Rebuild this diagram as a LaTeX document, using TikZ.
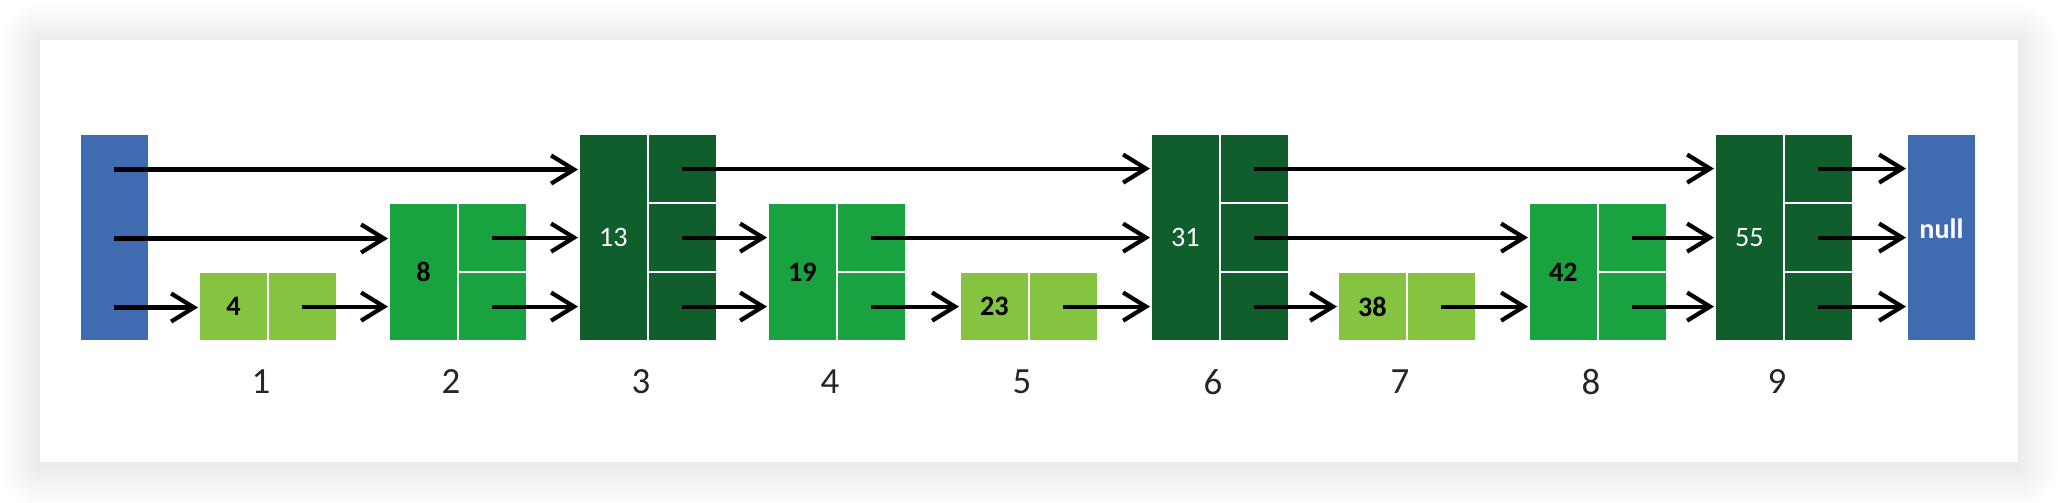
\documentclass[tikz,border=0pt]{standalone}
\usepackage{fontspec}
\setmainfont{Carlito}
\usetikzlibrary{arrows.meta}

\definecolor{headblue}{RGB}{63,108,177}
\definecolor{lightgreen}{RGB}{132,196,65}
\definecolor{midgreen}{RGB}{25,163,64}
\definecolor{darkgreen}{RGB}{15,94,43}

\tikzset{
    cell/.style={draw=white, line width=0.5pt, anchor=south west, inner sep=0pt,
        minimum width=0.69cm, minimum height=0.69cm},
    onlight/.style={text=black, font=\fontsize{8}{9}\selectfont\bfseries},
    ondark/.style={text=white, font=\fontsize{8}{9}\selectfont},
    ptr/.style={-{Straight Barb[length=6.5pt,width=8pt]}, line width=1.2pt},
    idx/.style={font=\fontsize{10.5}{12}\selectfont, text=black!85},
}

\begin{document}
\begin{tikzpicture}[x=0.01cm, y=-0.01cm, >=latex]
    \useasboundingbox (0,0) rectangle (2058,502);

    % card with soft shadow
    \foreach \r in {2,4,...,40}{
        \fill[black, opacity=0.0032, rounded corners=\r*0.28pt] (40-\r,44-\r) rectangle (2018+\r,466+\r);
    }
    \fill[white] (40,40) rectangle (2018,462);

    % head and tail
    \node[cell, fill=headblue, minimum height=2.07cm] (head) at (79,342) {};
    \node[cell, fill=headblue, minimum height=2.07cm,
        label={[text=white, font=\fontsize{8}{9}\selectfont\bfseries, yshift=2.5pt]center:null}] (nil) at (1906,342) {};
    \foreach \k in {1,2,3}
        \coordinate (h\k) at (114,342-\k*69+34.5);

    % towers
    \foreach \i/\x/\h/\num/\col/\sty in {1/198/1/4/lightgreen/onlight, 2/388/2/8/midgreen/onlight,
        3/578/3/13/darkgreen/ondark, 4/767/2/19/midgreen/onlight, 5/959/1/23/lightgreen/onlight,
        6/1150/3/31/darkgreen/ondark, 7/1337/1/38/lightgreen/onlight, 8/1528/2/42/midgreen/onlight,
        9/1714/3/55/darkgreen/ondark}{
        \node[cell, \sty, fill=\col, minimum height=\h*0.69cm] (v\i) at (\x,342) {\num};
        \foreach \k in {1,...,\h}
            \node[cell, fill=\col] (p\i-\k) at (\x+69,342-\k*69+69) {};
        \node[idx] (lbl\i) at (\x+63,382) {\i};
    }

    % pointers
    \foreach \k/\j in {3/v3, 2/v2, 1/v1}
        \draw[ptr] (h\k) -- (\j.west |- h\k);
    \foreach \i/\k/\j in {3/3/v6, 6/3/v9, 9/3/nil,
        2/2/v3, 3/2/v4, 4/2/v6, 6/2/v8, 8/2/v9, 9/2/nil,
        1/1/v2, 2/1/v3, 3/1/v4, 4/1/v5, 5/1/v6, 6/1/v7, 7/1/v8, 8/1/v9, 9/1/nil}
        \draw[ptr] (p\i-\k.center) -- (\j.west |- p\i-\k.center);

\end{tikzpicture}
\end{document}
